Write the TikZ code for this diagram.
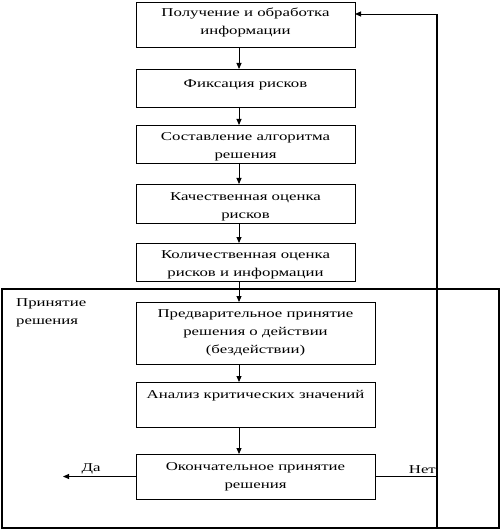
\documentclass[tikz,border=0pt]{standalone}
\usepackage{fontspec}
\setmainfont{Liberation Serif}[FakeStretch=1.4]
\usetikzlibrary{arrows.meta}
\begin{document}
\begin{tikzpicture}[x=1pt,y=-1pt,
  box/.style={draw,line width=0.9pt,inner sep=0pt,outer sep=0pt},
  wbox/.style={box,minimum width=219pt},
  nbox/.style={box,minimum width=239pt},
  txt/.style={anchor=north,align=center,inner sep=0pt,font=\fontsize{12}{18}\selectfont},
  lbl/.style={inner sep=0pt,font=\fontsize{12}{18}\selectfont},
  ln/.style={line width=0.9pt},
  arr/.style={ln,-{Triangle[length=6pt,width=5pt]}}]
\useasboundingbox (0,0) rectangle (501,529);
% frame
\node[draw,line width=1.1pt,minimum width=497pt,minimum height=239pt,inner sep=0pt] (frame) at (250.5,408.5) {};
% boxes
\node[wbox,minimum height=45pt] (b1) at (245.5,25) {};
\node[wbox,minimum height=38pt] (b2) at (245.5,88) {};
\node[wbox,minimum height=38pt] (b3) at (245.5,144) {};
\node[wbox,minimum height=39pt] (b4) at (245.5,203.5) {};
\node[wbox,minimum height=38pt] (b5) at (245.5,262) {};
\node[nbox,minimum height=62pt] (b6) at (255.5,333) {};
\node[nbox,minimum height=45pt] (b7) at (255.5,404.5) {};
\node[nbox,minimum height=45pt] (b8) at (255.5,476.5) {};
% texts
\node[txt] (t1) at ([yshift=-5pt]b1.north) {Получение и обработка\\информации};
\node[txt] (t2) at ([yshift=-10pt]b2.north) {Фиксация рисков};
\node[txt] (t3) at ([yshift=-7pt]b3.north) {Составление алгоритма\\решения};
\node[txt] (t4) at ([yshift=-8pt]b4.north) {Качественная оценка\\рисков};
\node[txt] (t5) at ([yshift=-7pt]b5.north) {Количественная оценка\\рисков и информации};
\node[txt] (t6) at ([yshift=-7pt]b6.north) {Предварительное принятие\\решения о действии\\(бездействии)};
\node[txt] (t7) at ([yshift=-8pt]b7.north) {Анализ критических значений};
\node[txt] (t8) at ([yshift=-8pt]b8.north) {Окончательное принятие\\решения};
\node[lbl,anchor=north west,align=left] (pr) at (16,298) {Принятие\\решения};
% connectors
\coordinate (ax) at (239,0);
\draw[arr] (b1.south -| ax) -- (b2.north -| ax);
\draw[arr] (b2.south -| ax) -- (b3.north -| ax);
\draw[arr] (b3.south -| ax) -- (b4.north -| ax);
\draw[arr] (b4.south -| ax) -- (b5.north -| ax);
\draw[arr] (b5.south -| ax) -- (b6.north -| ax);
\draw[arr] (b6.south -| ax) -- (b7.north -| ax);
\draw[arr] (b7.south -| ax) -- (b8.north -| ax);
\coordinate (da) at (63,478);
\draw[arr] (b8.west) -- (b8.west -| da);
\node[lbl,anchor=south] (dal) at (91,474) {Да};
\coordinate (fbtop) at (437,14);
\coordinate (fbbot) at (437,529);
\draw[ln] (b8.east) -- (b8.east -| fbtop);
\node[lbl,anchor=south east] (net) at (436,474) {Нет};
\draw[line width=1.1pt] (fbbot) -- (fbtop);
\draw[arr] (fbtop) -- (fbtop -| b1.east);
\end{tikzpicture}
\end{document}
